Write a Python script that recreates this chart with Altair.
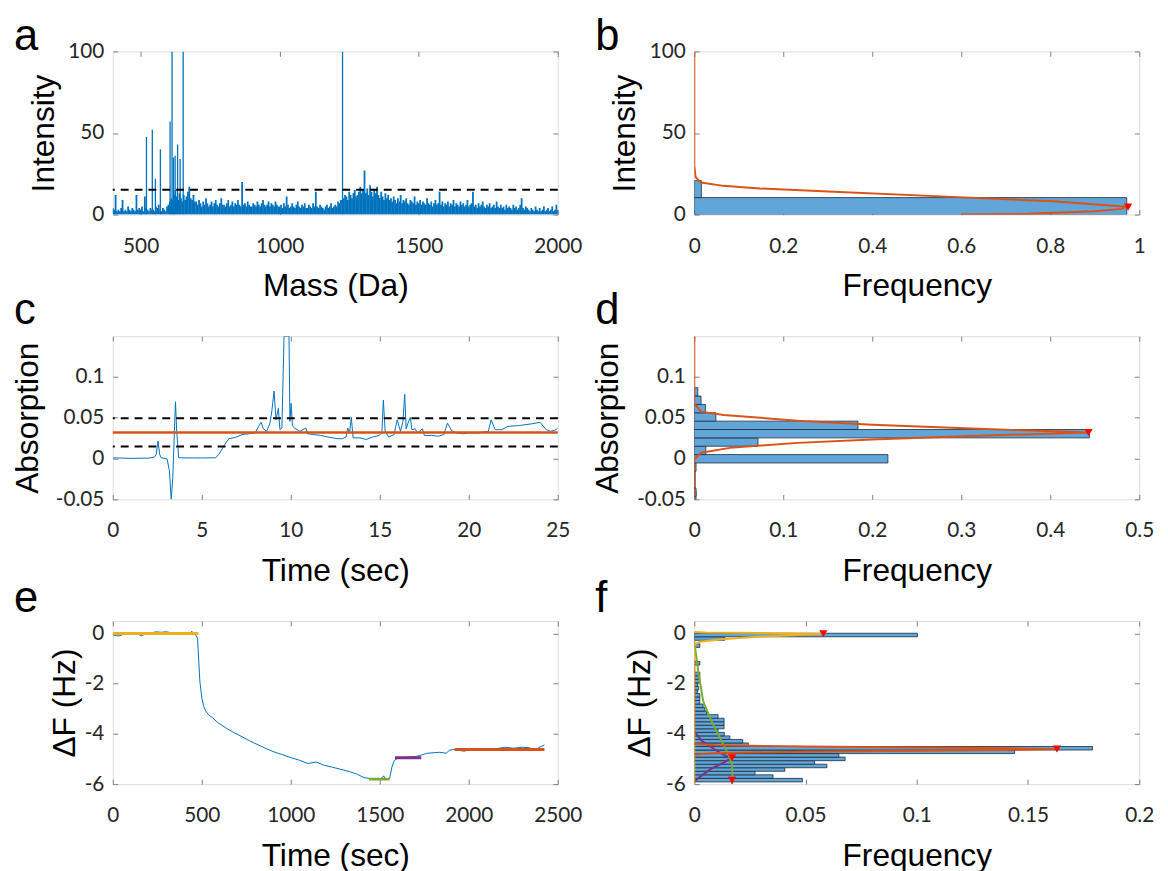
import altair as alt
import pandas as pd

# ---------------- colours / fonts ----------------
BLUE = "#0072BD"
ORANGE = "#D95319"
YELLOW = "#EDB120"
PURPLE = "#7E2F8E"
GREEN = "#77AC30"
HIST_FILL = "#62A6D9"
HIST_EDGE = "#1E2B38"
FRAME = "#808080"
RED = "#FF0000"
TICK_FONT = "Lato"
TITLE_FONT = "Liberation Sans"

W, H = 450, 165
TICK = 5

# ---------------- panel a : mass spectrum ----------------
A_MASS = list(range(400, 2001, 5))
A_NOISE = (
    [4, 3, 12, 2, 3, 2, 4, 9, 2, 3, 2, 5, 3, 2, 4, 3, 2, 12, 3, 4]
    + [3, 5, 2, 11, 4, 3, 2, 4, 3, 3, 2, 5, 4, 6, 3, 2, 4, 3, 2, 5]
    + [6, 8, 10, 9, 12, 15, 11, 9, 13, 10, 8, 12, 9, 11, 14, 17, 10, 9, 12, 8]
    + [8, 6, 9, 7, 5, 8, 6, 10, 7, 5, 6, 8, 5, 7, 9, 6, 5, 7, 10, 6]
    + [6, 5, 7, 9, 5, 6, 8, 5, 7, 6, 9, 6, 5, 20, 6, 7, 5, 8, 6, 5]
    + [5, 7, 6, 5, 8, 6, 5, 7, 9, 6, 5, 6, 8, 5, 7, 6, 5, 8, 6, 5]
    + [5, 6, 4, 7, 5, 11, 6, 4, 5, 7, 5, 4, 6, 8, 5, 4, 6, 5, 7, 4]
    + [4, 6, 5, 4, 7, 5, 14, 5, 4, 6, 5, 4, 3, 5, 6, 4, 5, 7, 4, 5]
    + [6, 5, 8, 7, 9, 9, 10, 12, 11, 9, 14, 12, 10, 13, 15, 11, 12, 14, 17, 13]
    + [15, 27, 13, 16, 12, 18, 14, 11, 15, 13, 17, 12, 10, 14, 11, 9, 13, 10, 12, 9]
    + [10, 8, 11, 9, 7, 10, 8, 12, 7, 9, 8, 10, 7, 6, 9, 8, 7, 11, 6, 8]
    + [7, 9, 6, 8, 7, 6, 10, 7, 6, 8, 5, 7, 9, 6, 7, 14, 6, 8, 5, 7]
    + [6, 8, 5, 7, 6, 9, 5, 7, 6, 5, 8, 6, 7, 5, 6, 9, 5, 6, 7, 14]
    + [5, 6, 4, 7, 5, 6, 8, 5, 4, 6, 5, 7, 4, 5, 6, 4, 8, 5, 4, 6]
    + [4, 5, 3, 6, 4, 5, 4, 3, 6, 4, 5, 3, 4, 6, 10, 4, 3, 5, 4, 3]
    + [2, 4, 3, 2, 5, 3, 2, 4, 2, 3, 5, 2, 3, 4, 2, 3, 5, 2, 3, 6]
    + [3]
)
# peaks that run off the top of the axes are drawn up to the axis limit
A_SPIKE_MASS = [521, 542, 553, 571, 606, 613, 618, 624, 633, 642, 653, 1226]
A_SPIKE_INT = [47.5, 52, 22, 40, 57, 100, 35, 36, 43, 34, 100, 100]
A_THRESHOLD = 15.2

# ---------------- panel b : intensity histogram ----------------
B_BIN_LO = [0.0, 10.4]
B_BIN_HI = [10.4, 20.8]
B_FREQ = [0.972, 0.016]
B_FIT = [(0, 100), (0, 30), (0.003, 23), (0.015, 19.6), (0.065, 17.6), (0.147, 16),
         (0.314, 14), (0.566, 11), (0.815, 8), (0.971, 4.8), (0.96, 3.5), (0.9, 2),
         (0.75, 0.5), (0.6, 0.0)]
B_PEAK = [(0.975, 4.6)]

# ---------------- panel c : absorption trace ----------------
C_TRACE = [(0.0, 0.0007), (0.96, 0.0), (2.0, 0.0003), (2.35, 0.0016), (2.44, 0.005), (2.54, 0.021),
           (2.63, 0.005), (2.72, 0.0007), (3.05, -0.0007), (3.18, -0.0154), (3.28, -0.05), (3.37, -0.023),
           (3.46, 0.033), (3.52, 0.069), (3.59, 0.033), (3.7, 0.0007), (4.48, 0.0005), (5.0, 0.0005),
           (5.78, 0.0007), (5.96, 0.005), (6.24, 0.015), (6.52, 0.024), (6.89, 0.0256), (7.26, 0.029),
           (7.63, 0.030), (8.0, 0.031), (8.19, 0.039), (8.33, 0.044), (8.46, 0.036), (8.65, 0.033),
           (8.83, 0.043), (8.93, 0.057), (9.06, 0.082), (9.17, 0.047), (9.3, 0.061), (9.39, 0.035),
           (9.5, 0.037), (9.62, 0.149), (9.66, 0.149), (9.84, 0.149), (9.9, 0.149), (9.95, 0.045),
           (10.02, 0.067), (10.09, 0.040), (10.2, 0.037), (10.5, 0.033), (10.85, 0.037), (10.93, 0.030),
           (11.3, 0.029), (11.67, 0.028), (12.1, 0.026), (12.6, 0.024), (12.9, 0.024), (13.1, 0.026),
           (13.2, 0.037), (13.3, 0.031), (13.4, 0.050), (13.5, 0.025), (13.87, 0.025), (14.24, 0.023),
           (14.6, 0.026), (14.98, 0.028), (15.12, 0.033), (15.2, 0.071), (15.3, 0.033), (15.5, 0.026),
           (15.8, 0.029), (15.98, 0.047), (16.16, 0.033), (16.3, 0.045), (16.4, 0.078), (16.48, 0.036),
           (16.6, 0.044), (16.72, 0.050), (16.8, 0.035), (17.0, 0.036), (17.1, 0.031), (17.4, 0.036),
           (17.5, 0.028), (17.9, 0.028), (18.3, 0.027), (18.6, 0.029), (18.8, 0.043), (19.03, 0.034),
           (19.3, 0.031), (19.68, 0.030), (19.96, 0.031), (20.5, 0.031), (21.1, 0.033), (21.25, 0.047),
           (21.48, 0.035), (21.85, 0.035), (22.2, 0.039), (22.8, 0.040), (23.5, 0.042), (24.0, 0.044),
           (24.35, 0.035), (24.6, 0.033), (24.9, 0.035), (25.0, 0.037)]
C_MEAN = 0.0315
C_BAND = [0.049, 0.0145]

# ---------------- panel d : absorption histogram ----------------
D_BIN_CENTER = [-0.0449, -0.0413, -0.0311, -0.0209, -0.0107, -0.0005, 0.0097, 0.0199, 0.0301,
                0.0403, 0.0505, 0.0607, 0.0709, 0.0811]
D_FREQ = [0.002, 0.002, 0.001, 0.001, 0.002, 0.2176, 0.013, 0.0716, 0.444, 0.184, 0.0243,
          0.0126, 0.0076, 0.004]
D_BIN_WIDTH = 0.0102
D_FIT = [(0, 0.149), (0, 0.067), (0.0076, 0.057), (0.033, 0.053), (0.116, 0.046), (0.2, 0.041),
         (0.327, 0.0358), (0.443, 0.0315), (0.327, 0.0278), (0.2, 0.023), (0.116, 0.0189),
         (0.04, 0.0128), (0.0076, 0.0068), (0, -0.001), (0, -0.05)]
D_PEAK = [(0.443, 0.0315)]

# ---------------- panel e : frequency shift trace ----------------
E_TRACE = [(0, -0.05), (20, -0.09), (40, -0.09), (68, 0.0), (90, -0.03), (115, -0.04), (140, -0.02),
           (161, -0.09), (189, 0.0), (215, 0.02), (244, 0.07), (270, 0.05), (300, 0.07), (330, 0.03),
           (374, -0.04), (400, 0.0), (430, 0.0), (444, 0.09), (455, 0.0), (463, -0.04), (470, -0.1),
           (476, -0.2), (481, -0.85), (489, -1.9), (500, -2.56), (511, -2.9), (522, -3.09), (540, -3.25),
           (559, -3.35), (590, -3.55), (633, -3.75), (680, -3.95), (726, -4.11), (770, -4.28), (818, -4.44),
           (860, -4.58), (911, -4.73), (955, -4.83), (1003, -4.95), (1050, -5.05), (1096, -5.18),
           (1142, -5.12), (1189, -5.25), (1235, -5.33), (1281, -5.41), (1330, -5.5), (1374, -5.61),
           (1411, -5.74), (1448, -5.78), (1485, -5.80), (1510, -5.77), (1522, -5.67), (1531, -5.81),
           (1555, -5.78), (1568, -5.32), (1581, -5.06), (1605, -4.95), (1651, -4.93), (1700, -4.9),
           (1726, -4.86), (1763, -4.77), (1800, -4.75), (1837, -4.73), (1874, -4.77), (1892, -4.64),
           (1920, -4.62), (1950, -4.66), (1976, -4.69), (2000, -4.62), (2022, -4.60), (2070, -4.63),
           (2115, -4.6), (2160, -4.58), (2207, -4.53), (2250, -4.57), (2300, -4.53), (2340, -4.55),
           (2374, -4.66), (2392, -4.55), (2425, -4.44)]
E_SEG_NAME = ["s1", "s2", "s3", "s4"]
E_SEG_START = [0, 1440, 1585, 1920]
E_SEG_END = [480, 1555, 1733, 2425]
E_SEG_LEVEL = [0.0, -5.80, -4.95, -4.62]
E_SEG_COLOR = [YELLOW, GREEN, PURPLE, ORANGE]

# ---------------- panel f : frequency shift histogram ----------------
F_BIN_CENTER = [-5.84, -5.699, -5.558, -5.417, -5.276, -5.135, -4.994, -4.853, -4.712, -4.571,
                -4.43, -4.289, -4.148, -4.007, -3.866, -3.725, -3.584, -3.443, -3.302, -3.161,
                -3.02, -2.879, -2.738, -2.597, -2.456, -2.315, -2.174, -2.033, -1.892, -1.751,
                -1.61, -1.187, -0.482, -0.2, -0.059]
F_FREQ = [0.0486, 0.0354, 0.0273, 0.0407, 0.0596, 0.054, 0.0678, 0.065, 0.144, 0.179,
          0.0243, 0.0218, 0.016, 0.0135, 0.0107, 0.0134, 0.0134, 0.0134, 0.0107, 0.0055,
          0.0048, 0.004, 0.0025, 0.0025, 0.0025, 0.0015, 0.002, 0.0015, 0.0025, 0.0025,
          0.0025, 0.0025, 0.0025, 0.0137, 0.1003]
F_BIN_WIDTH = 0.141
F_FIT_YELLOW = [(0, -6.0), (0, -0.45), (0.0025, -0.33), (0.0137, -0.22), (0.03, -0.12),
                (0.058, -0.02), (0.03, 0.02), (0.005, 0.04), (0, 0.06)]
F_FIT_ORANGE = [(0, -4.40), (0.01, -4.45), (0.05, -4.50), (0.10, -4.54), (0.14, -4.57),
                (0.163, -4.605), (0.14, -4.64), (0.10, -4.67), (0.05, -4.71), (0.01, -4.76), (0, -4.82)]
F_FIT_GREEN = [(0, -0.3), (0.0018, -1.51), (0.004, -2.69), (0.0077, -3.48), (0.0122, -4.27),
               (0.0152, -4.79), (0.017, -5.2), (0.0172, -5.84), (0.017, -6.0)]
F_FIT_PURPLE = [(0, -1.0), (0, -3.9), (0.0033, -4.27), (0.0077, -4.53), (0.0137, -4.86),
                (0.0167, -4.95), (0.0137, -5.12), (0.0077, -5.38), (0.0025, -5.71), (0, -5.91)]
F_PEAKS = [(0.058, -0.01), (0.163, -4.6), (0.017, -4.95), (0.017, -5.85)]


# ---------------- helpers ----------------
def pts(points):
    return pd.DataFrame({"x": [p[0] for p in points], "y": [p[1] for p in points],
                         "i": list(range(len(points)))})


def scale(dom):
    return alt.Scale(domain=dom, nice=False, zero=False)


LABEL_KW = dict(labelFont=TICK_FONT, labelFontSize=21, labelColor="#262626",
                labelExpr="toString(datum.value)", labelOverlap=False, labelFlush=False)
TITLE_KW = dict(titleFont=TITLE_FONT, titleFontSize=32, titleFontWeight="normal",
                titleColor="black", titleBaseline="alphabetic")
TICK_KW = dict(grid=False, domain=False, offset=-TICK, tickSize=TICK, tickColor=FRAME, tickWidth=1)


def ax_bottom(values, title):
    return alt.Axis(orient="bottom", values=values, title=title, labelPadding=21,
                    titleY=87, **TICK_KW, **LABEL_KW, **TITLE_KW)


def ax_left(values, title, tx):
    return alt.Axis(orient="left", values=values, title=title, labelPadding=9,
                    titleX=tx, **TICK_KW, **LABEL_KW, **TITLE_KW)


def ax_top(values):
    return alt.Axis(orient="top", values=values, labels=False, title=None, **TICK_KW)


def ax_right(values):
    return alt.Axis(orient="right", values=values, labels=False, title=None, **TICK_KW)


def frame_layer(df, xs, ys, xt, yt):
    return alt.Chart(df).mark_point(opacity=0, clip=True).encode(
        x=alt.X("x:Q", scale=xs, axis=ax_top(xt)),
        y=alt.Y("y:Q", scale=ys, axis=ax_right(yt)))


def panel(layers, letter, off):
    return alt.layer(*layers).resolve_axis(x="independent", y="independent").properties(
        width=W, height=H,
        title=alt.TitleParams(text=letter, anchor="start", frame="group", dx=-100, offset=off,
                              fontSize=44, font=TITLE_FONT, fontWeight="normal",
                              color="black", baseline="alphabetic"))


def hist_df(lo, hi, freq):
    return pd.DataFrame({"lo": lo, "hi": hi, "f": freq, "z": [0.0] * len(freq)})


def hist_layer(df, xs, ys, xt, yt, ytitle, tx):
    return alt.Chart(df).mark_rect(fill=HIST_FILL, stroke=HIST_EDGE, strokeWidth=0.8, clip=True).encode(
        x=alt.X("z:Q", scale=xs, axis=ax_bottom(xt, "Frequency")),
        x2="f:Q",
        y=alt.Y("lo:Q", scale=ys, axis=ax_left(yt, ytitle, tx)),
        y2="hi:Q")


def curve(points, xs, ys, color, width=2):
    return alt.Chart(pts(points)).mark_line(color=color, strokeWidth=width, clip=True).encode(
        x=alt.X("x:Q", scale=xs, axis=None), y=alt.Y("y:Q", scale=ys, axis=None),
        order="i:Q")


def peaks(points, xs, ys):
    return alt.Chart(pts(points)).mark_point(shape="triangle-down", filled=True, color=RED,
                                             size=70, opacity=1, clip=True).encode(
        x=alt.X("x:Q", scale=xs, axis=None), y=alt.Y("y:Q", scale=ys, axis=None))


def hline(values, ys, color, dash=None, width=2):
    kw = dict(color=color, strokeWidth=width)
    if dash:
        kw["strokeDash"] = dash
    return alt.Chart(pd.DataFrame({"y": values})).mark_rule(**kw).encode(
        y=alt.Y("y:Q", scale=ys, axis=None))


# ---------------- panel a ----------------
xa, ya = scale([400, 2000]), scale([0, 100])
XA_T, YA_T = [500, 1000, 1500, 2000], [0, 50, 100]
a_noise = pd.DataFrame({"x": A_MASS, "y": A_NOISE, "z": [0.0] * len(A_MASS)})
a_spike = pd.DataFrame({"x": A_SPIKE_MASS, "y": A_SPIKE_INT, "z": [0.0] * len(A_SPIKE_MASS)})
pa = panel([
    alt.Chart(a_noise).mark_rule(color=BLUE, strokeWidth=1.8, clip=True).encode(
        x=alt.X("x:Q", scale=xa, axis=ax_bottom(XA_T, "Mass (Da)")),
        y=alt.Y("y:Q", scale=ya, axis=ax_left(YA_T, "Intensity", -65)), y2="z:Q"),
    alt.Chart(a_spike).mark_rule(color=BLUE, strokeWidth=1.3, clip=True).encode(
        x=alt.X("x:Q", scale=xa, axis=None), y=alt.Y("y:Q", scale=ya, axis=None), y2="z:Q"),
    hline([A_THRESHOLD], ya, "black", [8, 6]),
    frame_layer(a_spike, xa, ya, XA_T, YA_T),
], "a", -54)

# ---------------- panel b ----------------
xb, yb = scale([0, 1]), scale([0, 100])
XB_T, YB_T = [0, 0.2, 0.4, 0.6, 0.8, 1], [0, 50, 100]
pb = panel([
    hist_layer(hist_df(B_BIN_LO, B_BIN_HI, B_FREQ), xb, yb, XB_T, YB_T, "Intensity", -65),
    curve(B_FIT, xb, yb, ORANGE),
    peaks(B_PEAK, xb, yb),
    frame_layer(pts(B_FIT), xb, yb, XB_T, YB_T),
], "b", -54)

# ---------------- panel c ----------------
xc, yc = scale([0, 25]), scale([-0.05, 0.149])
XC_T, YC_T = [0, 5, 10, 15, 20, 25], [-0.05, 0, 0.05, 0.1]
pc = panel([
    alt.Chart(pts(C_TRACE)).mark_line(color=BLUE, strokeWidth=1, clip=True).encode(
        x=alt.X("x:Q", scale=xc, axis=ax_bottom(XC_T, "Time (sec)")),
        y=alt.Y("y:Q", scale=yc, axis=ax_left(YC_T, "Absorption", -81)), order="i:Q"),
    hline(C_BAND, yc, "black", [8, 6]),
    hline([C_MEAN], yc, ORANGE, None, 2.5),
    frame_layer(pts(C_TRACE), xc, yc, XC_T, YC_T),
], "c", -32)

# ---------------- panel d ----------------
xd, yd = scale([0, 0.5]), scale([-0.05, 0.149])
XD_T, YD_T = [0, 0.1, 0.2, 0.3, 0.4, 0.5], [-0.05, 0, 0.05, 0.1]
d_lo = [c - D_BIN_WIDTH / 2 for c in D_BIN_CENTER]
d_hi = [c + D_BIN_WIDTH / 2 for c in D_BIN_CENTER]
pd_ = panel([
    hist_layer(hist_df(d_lo, d_hi, D_FREQ), xd, yd, XD_T, YD_T, "Absorption", -83),
    curve(D_FIT, xd, yd, ORANGE),
    peaks(D_PEAK, xd, yd),
    frame_layer(pts(D_FIT), xd, yd, XD_T, YD_T),
], "d", -32)

# ---------------- panel e ----------------
xe, ye = scale([0, 2500]), scale([-6, 0.5])
XE_T, YE_T = [0, 500, 1000, 1500, 2000, 2500], [-6, -4, -2, 0]
e_seg = pd.DataFrame({"name": E_SEG_NAME, "x": E_SEG_START, "x2": E_SEG_END, "y": E_SEG_LEVEL})
pe = panel([
    alt.Chart(pts(E_TRACE)).mark_line(color=BLUE, strokeWidth=1, clip=True).encode(
        x=alt.X("x:Q", scale=xe, axis=ax_bottom(XE_T, "Time (sec)")),
        y=alt.Y("y:Q", scale=ye, axis=ax_left(YE_T, "ΔF (Hz)", -44)), order="i:Q"),
    alt.Chart(e_seg).mark_rule(strokeWidth=3, clip=True).encode(
        x=alt.X("x:Q", scale=xe, axis=None), x2="x2:Q",
        y=alt.Y("y:Q", scale=ye, axis=None),
        color=alt.Color("name:N", scale=alt.Scale(domain=E_SEG_NAME, range=E_SEG_COLOR), legend=None)),
    frame_layer(pts(E_TRACE), xe, ye, XE_T, YE_T),
], "e", -35)

# ---------------- panel f ----------------
xf, yf = scale([0, 0.2]), scale([-6, 0.5])
XF_T, YF_T = [0, 0.05, 0.1, 0.15, 0.2], [-6, -4, -2, 0]
f_lo = [c - F_BIN_WIDTH / 2 for c in F_BIN_CENTER]
f_hi = [c + F_BIN_WIDTH / 2 for c in F_BIN_CENTER]
pf = panel([
    hist_layer(hist_df(f_lo, f_hi, F_FREQ), xf, yf, XF_T, YF_T, "ΔF (Hz)", -50),
    curve(F_FIT_PURPLE, xf, yf, PURPLE),
    curve(F_FIT_GREEN, xf, yf, GREEN),
    curve(F_FIT_YELLOW, xf, yf, YELLOW),
    curve(F_FIT_ORANGE, xf, yf, ORANGE),
    peaks(F_PEAKS, xf, yf),
    frame_layer(pts(F_PEAKS), xf, yf, XF_T, YF_T),
], "f", -35)

chart = alt.concat(pa, pb, pc, pd_, pe, pf, columns=2).properties(
    spacing={"row": 123, "column": 138}, bounds="flush",
    padding={"left": 3, "top": 2, "right": 5, "bottom": 0},
).configure_view(stroke=FRAME, strokeWidth=1).configure(background="white")

chart.save("out.html", embed_options={"renderer": "svg", "actions": False})
